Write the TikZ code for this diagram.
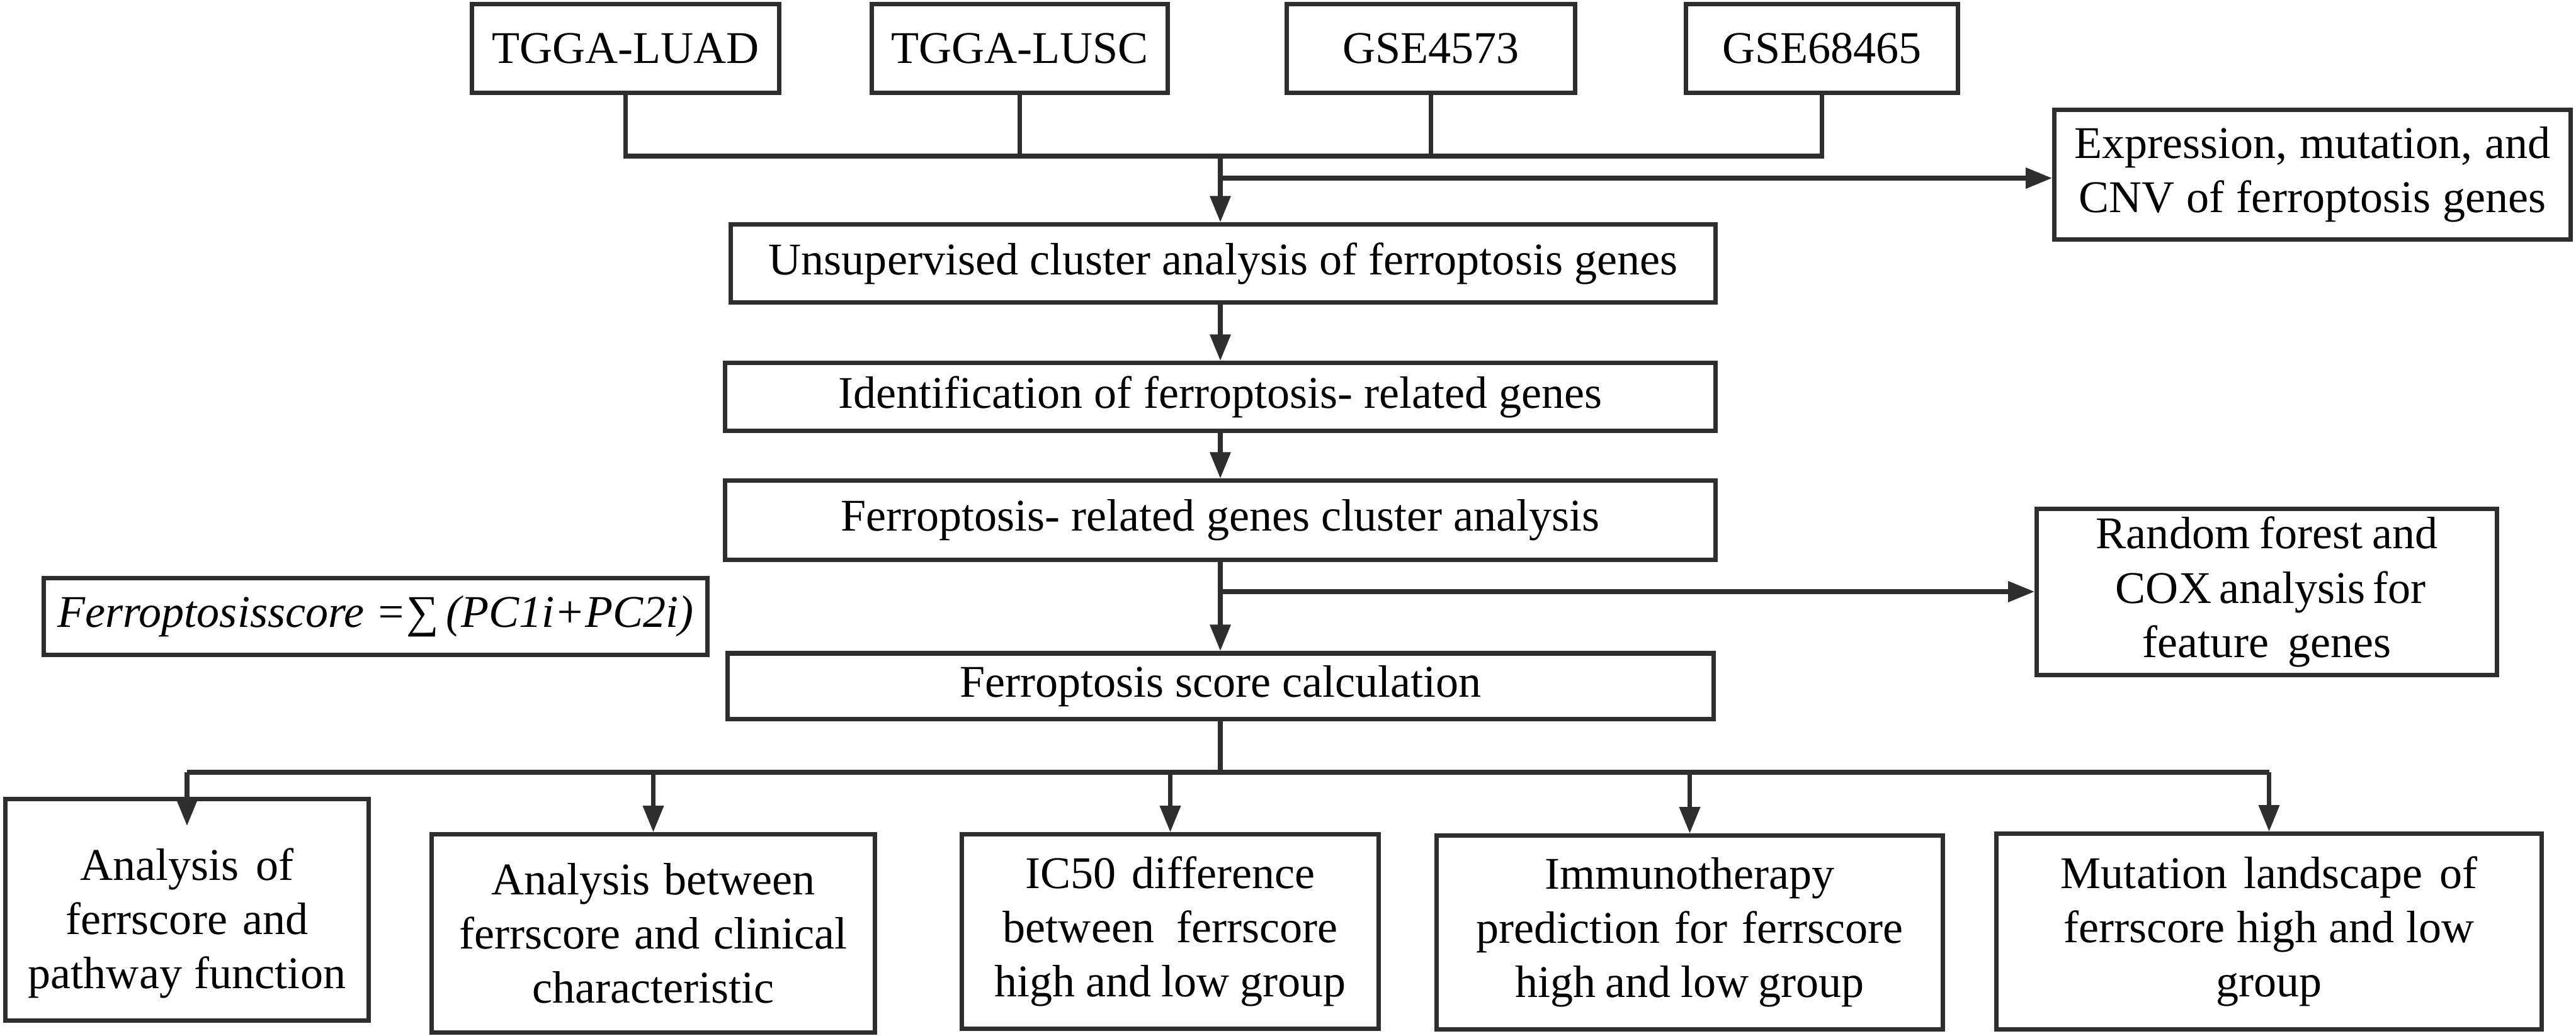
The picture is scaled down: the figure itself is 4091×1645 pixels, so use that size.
\documentclass[tikz,border=0pt]{standalone}
\usepackage{fontspec}
\setmainfont{Liberation Serif}
\usetikzlibrary{arrows.meta}
\newcommand\spr[2]{\makebox[#1][s]{#2}}
\begin{document}
\begin{tikzpicture}[x=0.01cm,y=-0.01cm,
  box/.style={draw=black!82, line width=2pt, inner sep=0pt, align=center,
    font=\fontsize{20.5}{24.5}\selectfont},
  txt/.style={inner sep=0pt, align=center, font=\fontsize{20.5}{24.5}\selectfont},
  conn/.style={draw=black!82, line width=2.2pt},
  arr/.style={conn, -{Triangle[length=12pt,width=9pt]}}]
\useasboundingbox (0,0) rectangle (4091,1645);
% top sources
\node[box, minimum width=4.87cm, minimum height=1.40cm] (luad) at (993.5,77) {TGGA-LUAD};
\node[box, minimum width=4.69cm, minimum height=1.40cm] (lusc) at (1619.5,77) {TGGA-LUSC};
\node[box, minimum width=4.57cm, minimum height=1.40cm] (g4573) at (2272.5,77) {GSE4573};
\node[box, minimum width=4.31cm, minimum height=1.40cm] (g68465) at (2893.5,77) {GSE68465};
% side box
\node[box, minimum width=8.19cm, minimum height=2.05cm] (expr) at (3672.5,277.5)
  {\spr{7.56cm}{Expression, mutation, and}\\\spr{7.42cm}{CNV of ferroptosis genes}};
% main column
\node[box, minimum width=15.63cm, minimum height=1.23cm] (unsup) at (1942.5,418.5)
  {Unsupervised cluster analysis of ferroptosis genes};
\node[box, minimum width=15.72cm, minimum height=1.07cm] (ident) at (1938,630.5)
  {Identification of ferroptosis- related genes};
\node[box, minimum width=15.72cm, minimum height=1.25cm] (frg) at (1938,826.5)
  {Ferroptosis- related genes cluster analysis};
\node[box, minimum width=15.65cm, minimum height=1.04cm] (score) at (1938.5,1090)
  {Ferroptosis score calculation};
\node[box, minimum width=10.53cm, minimum height=1.21cm] (formula) at (596.5,979.5)
  {{\itshape Ferroptosisscore =}∑{\itshape\,(PC1i+PC2i)}};
\node[box, minimum width=7.30cm, minimum height=2.63cm] (rf) at (3600,940.5)
  {\spr{5.42cm}{Random forest and}\\\spr{4.80cm}{COX analysis for}\\\spr{3.94cm}{feature genes}};
% bottom boxes
\node[box, minimum width=5.76cm, minimum height=3.51cm] (b1) at (297,1445.5) {};
\node[txt] (b1t) at (297,1467)
  {\spr{3.39cm}{Analysis of}\\\spr{3.84cm}{ferrscore and}\\\spr{5.04cm}{pathway function}};
\node[box, minimum width=7.03cm, minimum height=3.14cm] (b2) at (1037.5,1483)
  {\spr{5.14cm}{Analysis between}\\\spr{6.16cm}{ferrscore and clinical}\\characteristic};
\node[box, minimum width=6.61cm, minimum height=3.08cm] (b3) at (1858.5,1480)
  {\spr{4.60cm}{IC50 difference}\\\spr{5.31cm}{between ferrscore}\\\spr{5.58cm}{high and low group}};
\node[box, minimum width=8.03cm, minimum height=3.07cm] (b4) at (2683.5,1481.5)
  {Immunotherapy\\\spr{6.78cm}{prediction for ferrscore}\\\spr{5.54cm}{high and low group}};
\node[box, minimum width=8.65cm, minimum height=3.10cm] (b5) at (3603.5,1480)
  {\spr{6.61cm}{Mutation landscape of}\\\spr{6.52cm}{ferrscore high and low}\\group};
% connectors
\coordinate (tb) at (1938,248);
\coordinate (br1) at (1938,283);
\coordinate (br2) at (1938,940);
\coordinate (bb) at (1938,1227);
\draw[conn] (luad.south) |- (tb) -| (g68465.south);
\draw[conn] (lusc.south) -- (lusc.south |- tb);
\draw[conn] (g4573.south) -- (g4573.south |- tb);
\draw[arr] (tb) -- (unsup.north -| tb);
\draw[arr] (br1) -- (br1 -| expr.west);
\draw[arr] (unsup.south -| ident.north) -- (ident.north);
\draw[arr] (ident.south) -- (frg.north);
\draw[arr] (frg.south) -- (score.north -| frg.south);
\draw[arr] (br2) -- (br2 -| rf.west);
\draw[conn] (score.south -| bb) -- (bb);
\draw[conn] (b1.north |- bb) -- (b5.north |- bb);
\draw[arr] (b1.north |- bb) -- ([yshift=-0.46cm]b1.north);
\draw[arr] (b2.north |- bb) -- (b2.north);
\draw[arr] (b3.north |- bb) -- (b3.north);
\draw[arr] (b4.north |- bb) -- (b4.north);
\draw[arr] (b5.north |- bb) -- (b5.north);
\end{tikzpicture}
\end{document}
